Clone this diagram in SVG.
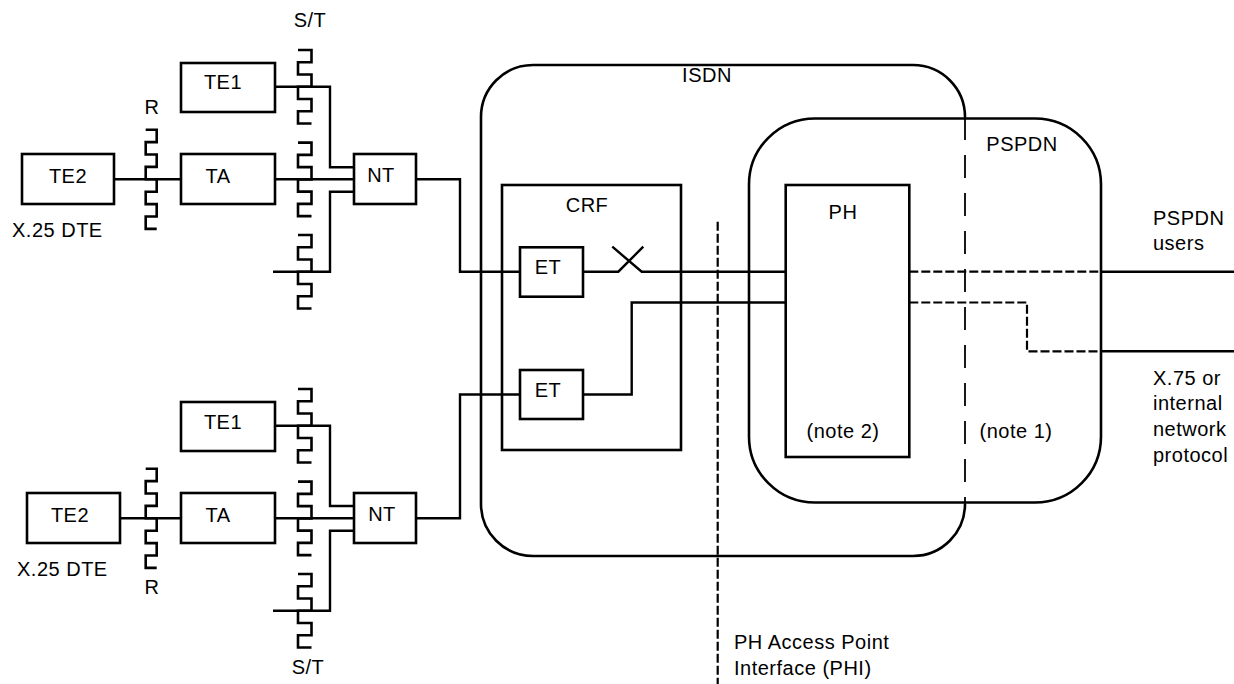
<svg xmlns="http://www.w3.org/2000/svg" xmlns:xlink="http://www.w3.org/1999/xlink" width="1234" height="684" viewBox="0 0 1234 684">
<style>
.box{fill:none;stroke:#000;stroke-width:2.6}
.ln{fill:none;stroke:#000;stroke-width:2.4}
.dsh{fill:none;stroke:#000;stroke-width:2.2;stroke-dasharray:9,3}
.ldsh{fill:none;stroke:#000;stroke-width:1.8;stroke-dasharray:23,15}
.zz{fill:none;stroke:#000;stroke-width:2.6}
text{font-family:"Liberation Sans",Arial,sans-serif;font-size:20px;letter-spacing:0.5px;fill:#000}
.c{text-anchor:middle}
</style>
<defs>
<path id="st" d="M0,0 H13.5 V12.25 H0 V24.5 H13.5 V36.75 H0 V49 H13.5 V61.25 H0 V73.5 H13.5"/>
<path id="rr" d="M0,0 H11 V12.4 H0 V24.8 H11 V37.2 H0 V49.6 H11 V62 H0 V74.4 H11 V86.8 H0 V99.2 H11"/>
</defs>
<rect width="1234" height="684" fill="#fff"/>

<g id="isdn">
<path class="box" d="M965,117 A52,52 0 0 0 913,65 H533 A52,52 0 0 0 481,117 V504 A52,52 0 0 0 533,556 H913 A52,52 0 0 0 965,504"/>
<path class="ldsh" d="M965,117 V504"/>
<text x="707" y="82" class="c">ISDN</text>
</g>
<g id="pspdn">
<rect class="box" x="749" y="118.5" width="352" height="384" rx="66" ry="66"/>
<text x="1022" y="151" class="c">PSPDN</text>
<text x="1016" y="438" class="c">(note 1)</text>
</g>
<g id="crf">
<rect class="box" x="502" y="185" width="179" height="265"/>
<text x="587" y="212" class="c">CRF</text>
</g>
<g id="et1">
<rect class="box" x="520" y="247.3" width="63" height="49.4"/>
<text x="548" y="274" class="c">ET</text>
</g>
<g id="et2">
<rect class="box" x="520" y="370" width="63" height="49"/>
<text x="548" y="397" class="c">ET</text>
</g>
<g id="ph">
<rect class="box" x="785.7" y="185" width="123.6" height="272"/>
<text x="843" y="219" class="c">PH</text>
<text x="843" y="438" class="c">(note 2)</text>
</g>

<g id="te1-top">
<rect class="box" x="181" y="63" width="94" height="49"/>
<text x="223" y="89" class="c">TE1</text>
</g>
<g id="te2-top">
<rect class="box" x="22" y="154" width="92" height="50"/>
<text x="68" y="183" class="c">TE2</text>
<text x="12" y="237">X.25 DTE</text>
</g>
<g id="ta-top">
<rect class="box" x="181" y="154" width="94" height="50"/>
<text x="218" y="183" class="c">TA</text>
</g>
<g id="nt-top">
<rect class="box" x="354" y="154" width="62" height="50"/>
<text x="381" y="182" class="c">NT</text>
</g>

<g id="te1-bot">
<rect class="box" x="181" y="402" width="94" height="49"/>
<text x="223" y="429" class="c">TE1</text>
</g>
<g id="te2-bot">
<rect class="box" x="27" y="493" width="93" height="50"/>
<text x="70" y="522" class="c">TE2</text>
<text x="17" y="576">X.25 DTE</text>
</g>
<g id="ta-bot">
<rect class="box" x="181" y="493" width="94" height="50"/>
<text x="218" y="522" class="c">TA</text>
</g>
<g id="nt-bot">
<rect class="box" x="354" y="493" width="62" height="50"/>
<text x="382" y="521" class="c">NT</text>
</g>

<g id="ref-points">
<use xlink:href="#st" href="#st" class="zz" x="298" y="50"/>
<use xlink:href="#st" href="#st" class="zz" x="298" y="142.6"/>
<use xlink:href="#st" href="#st" class="zz" x="298" y="235"/>
<use xlink:href="#st" href="#st" class="zz" x="298" y="389"/>
<use xlink:href="#st" href="#st" class="zz" x="298" y="481.6"/>
<use xlink:href="#st" href="#st" class="zz" x="298" y="574"/>
<use xlink:href="#rr" href="#rr" class="zz" x="145.7" y="129.7"/>
<use xlink:href="#rr" href="#rr" class="zz" x="145.7" y="468.7"/>
<text x="310" y="27" class="c">S/T</text>
<text x="152" y="114" class="c">R</text>
<text x="152" y="594" class="c">R</text>
<text x="308" y="674" class="c">S/T</text>
</g>

<g id="connectors">
<path class="ln" d="M114,179.3 H181"/>
<path class="ln" d="M275,179.3 H354"/>
<path class="ln" d="M275,86.7 H330 V167.3 H354"/>
<path class="ln" d="M273,271.7 H330 V191.7 H354"/>
<path class="ln" d="M416,179.3 H460 V271.7 H520"/>
<path class="ln" d="M120,518.3 H181"/>
<path class="ln" d="M275,518.3 H354"/>
<path class="ln" d="M275,425.7 H330 V506 H354"/>
<path class="ln" d="M273,610.7 H330 V530.7 H354"/>
<path class="ln" d="M416,518.3 H460 V394.5 H520"/>
<path class="ln" d="M583,271.7 H618.3 L643.3,246.7 M612.3,246.7 L641.7,271.7 H785.7"/>
<path class="ln" d="M583,394.5 H631.7 V302.5 H785.7"/>
<path class="dsh" d="M909.3,271.7 H1101"/>
<path class="ln" d="M1101,271.7 H1234"/>
<path class="dsh" d="M909.3,302.5 H1027 V351.3 H1101"/>
<path class="ln" d="M1101,351.3 H1234"/>
<path class="dsh" d="M717.7,221.7 V684"/>
</g>

<g id="labels">
<text x="1153" y="225">PSPDN</text>
<text x="1153" y="250">users</text>
<text x="1153" y="385">X.75 or</text>
<text x="1153" y="410">internal</text>
<text x="1153" y="436">network</text>
<text x="1153" y="462">protocol</text>
<text x="734" y="649">PH Access Point</text>
<text x="734" y="675">Interface (PHI)</text>
</g>
</svg>
